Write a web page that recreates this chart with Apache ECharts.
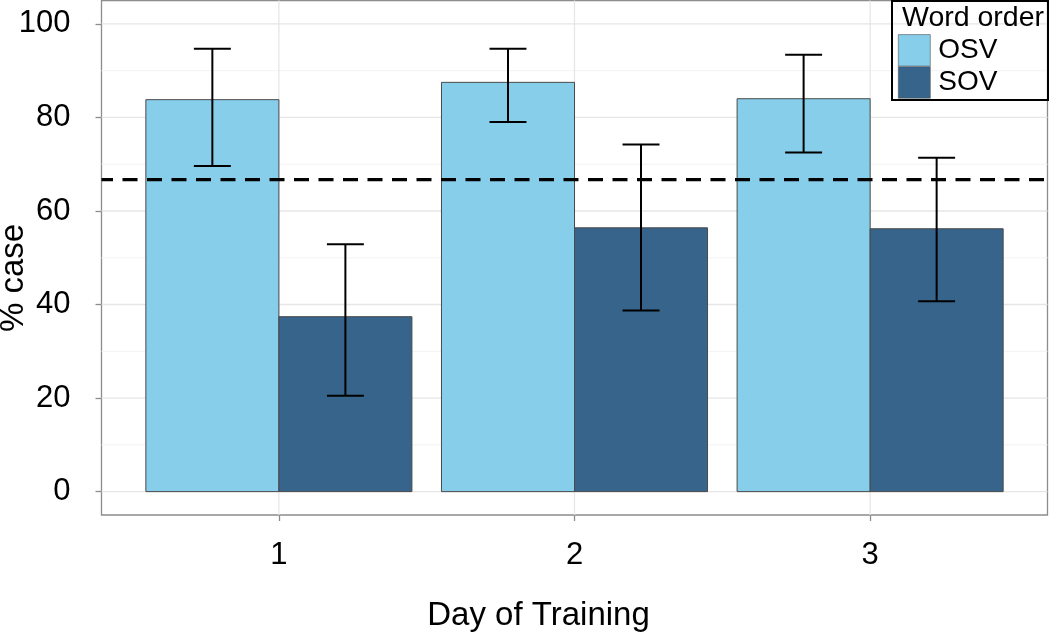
<!DOCTYPE html>
<html>
<head>
<meta charset="utf-8">
<script src="https://cdn.jsdelivr.net/npm/echarts@6/dist/echarts.min.js"></script>
<style>html,body{margin:0;padding:0;background:#fff}#c{width:1050px;height:635px}</style>
</head>
<body>
<div id="c"></div>
<script>
var days = ['1', '2', '3'];
var dayPos = [1, 2, 3];
var osvMean = [83.8, 87.5, 84.0];
var osvLow = [69.6, 79.0, 72.5];
var osvHigh = [94.7, 94.7, 93.4];
var sovMean = [37.4, 56.4, 56.2];
var sovLow = [20.5, 38.7, 40.7];
var sovHigh = [52.9, 74.2, 71.4];
var chanceLevel = [66.7];
var yTicks = [0, 20, 40, 60, 80, 100];
var yMinor = [10, 30, 50, 70, 90];

var FONT = 'Liberation Sans, Arial, Helvetica, sans-serif';
var BAR_W = 0.45;
var CAP_HALF = 0.0625;

function barSeries(name, color, means, side) {
  return {
    name: name, type: 'custom', z: 2,
    itemStyle: { color: color },
    data: dayPos.map(function (d, i) { return [d, means[i]]; }),
    renderItem: function (params, api) {
      var x = api.value(0), v = api.value(1);
      var x0 = side < 0 ? x - BAR_W : x, x1 = side < 0 ? x : x + BAR_W;
      var p0 = api.coord([x0, v]), p1 = api.coord([x1, 0]);
      return { type: 'rect', shape: { x: p0[0], y: p0[1], width: p1[0] - p0[0], height: p1[1] - p0[1] },
        style: { fill: color, stroke: '#4a4a4a', lineWidth: 1 } };
    }
  };
}
function errSeries(name, lows, highs, side) {
  return {
    name: name, type: 'custom', z: 3, silent: true,
    data: dayPos.map(function (d, i) { return [d, lows[i], highs[i]]; }),
    renderItem: function (params, api) {
      var x = api.value(0) + side * BAR_W / 2;
      var lo = api.value(1), hi = api.value(2);
      var a = api.coord([x, lo]), b = api.coord([x, hi]);
      var l1 = api.coord([x - CAP_HALF, hi]), r1 = api.coord([x + CAP_HALF, hi]);
      var l2 = api.coord([x - CAP_HALF, lo]), r2 = api.coord([x + CAP_HALF, lo]);
      var st = { stroke: '#000', lineWidth: 2 };
      return { type: 'group', children: [
        { type: 'line', shape: { x1: a[0], y1: a[1], x2: b[0], y2: b[1] }, style: st },
        { type: 'line', shape: { x1: l1[0], y1: l1[1], x2: r1[0], y2: r1[1] }, style: st },
        { type: 'line', shape: { x1: l2[0], y1: l2[1], x2: r2[0], y2: r2[1] }, style: st }
      ] };
    }
  };
}
function hLineSeries(values, color, width, dash, z) {
  return {
    type: 'custom', z: z, silent: true,
    data: values.map(function (v) { return [1, v]; }),
    renderItem: function (params, api) {
      var cs = params.coordSys;
      var p = api.coord([1, api.value(1)]);
      var style = { stroke: color, lineWidth: width };
      if (dash) { style.lineDash = dash; style.lineDashOffset = 3.5; }
      return { type: 'line', shape: { x1: cs.x, y1: p[1], x2: cs.x + cs.width, y2: p[1] }, style: style };
    }
  };
}
function vLineSeries(values, color, width, z) {
  return {
    type: 'custom', z: z, silent: true,
    data: values.map(function (v) { return [v, 0]; }),
    renderItem: function (params, api) {
      var cs = params.coordSys;
      var p = api.coord([api.value(0), 0]);
      return { type: 'line', shape: { x1: p[0], y1: cs.y, x2: p[0], y2: cs.y + cs.height },
        style: { stroke: color, lineWidth: width } };
    }
  };
}

var chart = echarts.init(document.getElementById('c'), null, { renderer: 'canvas' });
chart.setOption({
  animation: false,
  backgroundColor: '#fff',
  textStyle: { fontFamily: FONT },
  grid: { left: 101.5, right: 2.5, top: 0.5, bottom: 120, show: true, borderColor: '#8c8c8c', borderWidth: 1.3, backgroundColor: 'transparent',
    containLabel: false, outerBoundsMode: 'none' },
  xAxis: {
    type: 'value', min: 0.4, max: 3.6,
    axisLine: { show: false, onZero: false },
    splitLine: { show: false },
    axisTick: { show: true, length: 6, lineStyle: { color: '#8c8c8c', width: 1.3 }, customValues: dayPos },
    axisLabel: { fontSize: 31, color: '#000', margin: 25, fontFamily: FONT, customValues: dayPos,
      formatter: function (v) { var i = dayPos.indexOf(v); return i >= 0 ? days[i] : ''; } },
    name: 'Day of Training', nameLocation: 'middle', nameGap: 84,
    nameTextStyle: { fontSize: 33, color: '#000', fontFamily: FONT, padding: [0, 72, 0, 0] }
  },
  yAxis: {
    type: 'value', min: -5, max: 105,
    axisLine: { show: false, onZero: false },
    splitLine: { show: false },
    axisTick: { show: true, length: 6, lineStyle: { color: '#8c8c8c', width: 1.3 }, customValues: yTicks },
    axisLabel: { fontSize: 31, color: '#000', margin: 31, fontFamily: FONT, customValues: yTicks }
  },
  legend: {
    data: ['OSV', 'SOV'], orient: 'vertical', left: 898, top: 34.3, padding: 0,
    itemWidth: 32, itemHeight: 31.5, itemGap: 0, icon: 'rect',
    itemStyle: { borderColor: '#555', borderWidth: 0.6 },
    textStyle: { fontSize: 28, color: '#000', fontFamily: FONT, padding: [0, 0, 0, 3] }
  },
  graphic: [
    { type: 'rect', z: 10, shape: { x: 892, y: 1, width: 156, height: 99 }, style: { fill: 'rgba(255,255,255,0)', stroke: '#000', lineWidth: 2 } },
    { type: 'text', z: 11, x: 902, y: 18, style: { text: 'Word order', fontSize: 28.5, fontFamily: FONT, fill: '#000', verticalAlign: 'middle', align: 'left' } },
    { type: 'text', z: 11, x: 14, y: 278, rotation: Math.PI / 2, style: { text: '% case', fontSize: 33, fontFamily: FONT, fill: '#000', verticalAlign: 'middle', align: 'center' } }
  ],
  series: [
    hLineSeries(yMinor, '#f3f3f3', 1, null, 0),
    hLineSeries(yTicks, '#e6e6e6', 1.3, null, 0),
    vLineSeries(dayPos, '#e6e6e6', 1.3, 0),
    barSeries('OSV', '#87CEEB', osvMean, -1),
    barSeries('SOV', '#36648B', sovMean, 1),
    errSeries('OSV', osvLow, osvHigh, -1),
    errSeries('SOV', sovLow, sovHigh, 1),
    hLineSeries(chanceLevel, '#000', 3.2, [15, 9.5], 4)
  ]
});
</script>
</body>
</html>
